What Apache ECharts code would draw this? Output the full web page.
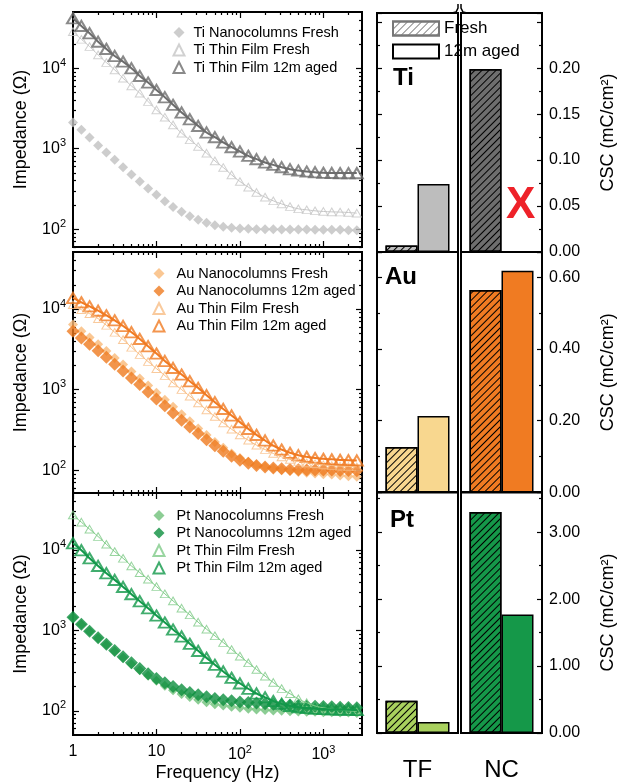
<!DOCTYPE html>
<html>
<head>
    <meta charset="UTF-8">
    <title>Impedance and CSC</title>
    <style type="text/css">
        *{margin:0;padding:0}
        #main{width:618px;height:783px;background:#fff}
    </style>
    <script src="https://cdn.jsdelivr.net/npm/echarts@6/dist/echarts.min.js"></script>
</head>
<body>
<div id="main"></div>
<script type="text/javascript">
    // frequencies (Hz), 10 points per decade
    var freq = [1, 1.26, 1.58, 2, 2.51, 3.16, 3.98, 5.01, 6.31, 7.94,
        10, 12.6, 15.8, 20, 25.1, 31.6, 39.8, 50.1, 63.1, 79.4,
        100, 126, 158, 200, 251, 316, 398, 501, 631, 794,
        1000, 1259, 1585, 1995, 2512];

    // impedance (ohm)
    var tiNcFresh = [2110, 1715, 1380, 1095, 896, 727, 589, 477, 391, 320, 267, 223, 189, 164, 145, 131, 120, 112, 107, 104, 102, 101, 100, 100, 100, 99, 99, 99, 99, 98, 98, 98, 98, 97, 97];
    var tiTfFresh = [28500, 22900, 18600, 14650, 11760, 9540, 7510, 6035, 4900, 3855, 3035, 2460, 1976, 1560, 1290, 1065, 880, 706, 584, 473, 391, 333, 286, 250, 225, 206, 191, 179, 174, 169, 166, 164, 163, 161, 158];
    var tiTfAged = [41700, 33600, 27200, 21400, 17400, 14200, 12100, 10000, 8030, 6640, 5380, 4365, 3510, 2815, 2325, 1920, 1590, 1390, 1195, 1045, 923, 815, 741, 674, 630, 589, 556, 535, 520, 510, 501, 500, 497, 497, 497];

    var auNcFresh = [6400, 5290, 4420, 3650, 3015, 2470, 2040, 1670, 1368, 1120, 910, 745, 610, 494, 404, 329, 272, 224, 189, 161, 141, 127, 116, 110, 105, 101, 98, 95, 93, 91, 89, 88, 86, 84, 83];
    var auNcAged = [5290, 4370, 3645, 3040, 2515, 2060, 1700, 1395, 1154, 935, 766, 628, 513, 417, 344, 285, 238, 200, 172, 149, 133, 122, 114, 109, 106, 104, 102, 101, 100, 100, 100, 100, 99, 99, 98];
    var auTfFresh = [11300, 9810, 8750, 7590, 6280, 5140, 4170, 3350, 2720, 2225, 1820, 1492, 1210, 1000, 827, 684, 560, 463, 386, 322, 274, 235, 204, 180, 161, 146, 136, 128, 123, 120, 116, 114, 112, 111, 110];
    var auTfAged = [13700, 12100, 10800, 9530, 8340, 7240, 6150, 5140, 4250, 3445, 2795, 2265, 1857, 1535, 1268, 1049, 851, 697, 575, 476, 394, 325, 274, 233, 202, 180, 164, 153, 146, 141, 138, 136, 134, 133, 132];

    var ptNcFresh = [1440, 1180, 965, 795, 660, 548, 455, 380, 320, 272, 236, 205, 180, 162, 148, 137, 128, 121, 116, 112, 109, 106, 104, 102, 101, 100, 99, 98, 97, 97, 96, 96, 95, 95, 94];
    var ptNcAged = [1460, 1195, 978, 808, 674, 562, 469, 395, 336, 288, 252, 223, 201, 182, 169, 158, 149, 142, 137, 133, 129, 127, 125, 122, 121, 119, 118, 117, 115, 114, 113, 112, 111, 110, 109];
    var ptTfFresh = [27200, 22100, 18100, 14650, 11760, 9530, 7870, 6320, 5220, 4325, 3505, 2845, 2325, 1885, 1560, 1263, 1033, 855, 706, 578, 478, 395, 326, 270, 225, 189, 163, 141, 126, 115, 109, 105, 102, 100, 98];
    var ptTfAged = [12100, 9910, 7870, 6320, 5130, 4240, 3470, 2815, 2300, 1885, 1528, 1250, 1023, 838, 680, 556, 455, 373, 308, 257, 219, 188, 164, 147, 132, 122, 115, 111, 108, 106, 105, 104, 103, 103, 102];

    // CSC (mC/cm2), [TF, NC]
    var cscGroups = ['TF', 'NC'];
    var tiFresh = [0.007, 0.199];
    var tiAged = [0.074, null];
    var auFresh = [0.127, 0.564];
    var auAged = [0.213, 0.618];
    var ptFresh = [0.48, 3.30];
    var ptAged = [0.165, 1.77];

    // tick values
    var freqMajor = [1, 10, 100, 1000];
    var freqMinor = [2, 3, 4, 5, 6, 7, 8, 9, 20, 30, 40, 50, 60, 70, 80, 90, 200, 300, 400, 500, 600, 700, 800, 900, 2000];
    var impMajor = [100, 1000, 10000];
    var impMinor = [60, 70, 80, 90, 200, 300, 400, 500, 600, 700, 800, 900, 2000, 3000, 4000, 5000, 6000, 7000, 8000, 9000, 20000, 30000, 40000];

    var FONT = 'Liberation Sans, Arial, sans-serif';
    var hatch = {symbol: 'rect', symbolSize: 1, dashArrayX: [1, 0], dashArrayY: [1, 3.5], rotation: -Math.PI / 4, color: '#000'};

    function pow10Label(v) {
        var e = Math.round(Math.log(v) / Math.LN10);
        if (e === 0) return '1';
        if (e === 1) return '10';
        return '{b|10}{s|' + e + '}';
    }
    var supRich = {
        b: {fontSize: 16, lineHeight: 22, fontFamily: FONT, color: '#000'},
        s: {fontSize: 11, lineHeight: 11, verticalAlign: 'top', fontFamily: FONT, color: '#000'}
    };

    var grid = [], xAxis = [], yAxis = [], series = [], legend = [];

    function logAxis(gi, pos, min, max, ticks, len, label) {
        return {
            type: 'log', logBase: 10, gridIndex: gi, position: pos, min: min, max: max,
            axisLine: {show: false}, splitLine: {show: false},
            axisTick: {show: true, inside: true, length: len, customValues: ticks, lineStyle: {color: '#000', width: 1.2}},
            axisLabel: label ? label : {show: false}
        };
    }

    var leftRows = [
        {top: 12, height: 235, min: 60, max: 50000, legend: {left: 167.5, top: 20, pad: 4}, items: [
            {name: 'Ti Nanocolumns Fresh', data: tiNcFresh, symbol: 'diamond', size: 10, color: '#c0c0c0'},
            {name: 'Ti Thin Film Fresh', data: tiTfFresh, symbol: 'triangle', size: 9, color: '#c6c6c6', hollow: 1, lw: 1},
            {name: 'Ti Thin Film 12m aged', data: tiTfAged, symbol: 'triangle', size: 12, color: '#6d6d6d', hollow: 2, lw: 2}
        ]},
        {top: 252, height: 241, min: 52, max: 51000, legend: {left: 147.5, top: 261, pad: 7}, items: [
            {name: 'Au Nanocolumns Fresh', data: auNcFresh, symbol: 'diamond', size: 10, color: '#f9b978'},
            {name: 'Au Nanocolumns 12m aged', data: auNcAged, symbol: 'diamond', size: 13, color: '#ef7a1f'},
            {name: 'Au Thin Film Fresh', data: auTfFresh, symbol: 'triangle', size: 9, color: '#f8bd84', hollow: 1, lw: 1},
            {name: 'Au Thin Film 12m aged', data: auTfAged, symbol: 'triangle', size: 12, color: '#f07a22', hollow: 2, lw: 2}
        ]},
        {top: 493, height: 242, min: 50, max: 51000, legend: {left: 147.5, top: 503, pad: 7}, items: [
            {name: 'Pt Nanocolumns Fresh', data: ptNcFresh, symbol: 'diamond', size: 10, color: '#6fc179'},
            {name: 'Pt Nanocolumns 12m aged', data: ptNcAged, symbol: 'diamond', size: 13, color: '#0c8f3f'},
            {name: 'Pt Thin Film Fresh', data: ptTfFresh, symbol: 'triangle', size: 9, color: '#80cb88', hollow: 1, lw: 1},
            {name: 'Pt Thin Film 12m aged', data: ptTfAged, symbol: 'triangle', size: 12, color: '#12984a', hollow: 2, lw: 2}
        ]}
    ];

    leftRows.forEach(function (row, r) {
        var gi = grid.length;
        grid.push({left: 73, width: 289, top: row.top, height: row.height, show: true,
            borderColor: '#000', borderWidth: 2, backgroundColor: 'transparent'});
        var xi = xAxis.length, yi = yAxis.length;
        var last = r === leftRows.length - 1;
        var xMain = logAxis(gi, 'bottom', 1, 2900, freqMajor, 6, last ? {
            show: true, customValues: freqMajor, formatter: pow10Label, rich: supRich,
            fontSize: 16, fontFamily: FONT, color: '#000', margin: 9
        } : null);
        if (last) {
            xMain.name = 'Frequency (Hz)';
            xMain.nameLocation = 'middle';
            xMain.nameGap = 28;
            xMain.nameTextStyle = {fontSize: 18, fontFamily: FONT, color: '#000'};
        }
        xAxis.push(xMain);
        xAxis.push(logAxis(gi, 'bottom', 1, 2900, freqMinor, 3));
        xAxis.push(logAxis(gi, 'top', 1, 2900, freqMajor, 6));
        xAxis.push(logAxis(gi, 'top', 1, 2900, freqMinor, 3));
        var yMain = logAxis(gi, 'left', row.min, row.max, impMajor, 6, {
            show: true, customValues: impMajor, formatter: pow10Label, rich: supRich,
            fontSize: 16, fontFamily: FONT, color: '#000', margin: 7
        });
        yMain.name = 'Impedance (\u03A9)';
        yMain.nameLocation = 'middle';
        yMain.nameGap = 43;
        yMain.nameTextStyle = {fontSize: 18, fontFamily: FONT, color: '#000'};
        yAxis.push(yMain);
        yAxis.push(logAxis(gi, 'left', row.min, row.max, impMinor, 3));
        yAxis.push(logAxis(gi, 'right', row.min, row.max, impMajor, 6));
        yAxis.push(logAxis(gi, 'right', row.min, row.max, impMinor, 3));

        row.items.forEach(function (it) {
            var pts = freq.map(function (f, i) { return [f, it.data[i]]; });
            if (it.hollow) {
                series.push({
                    type: 'line', name: it.name + ' fit', xAxisIndex: xi, yAxisIndex: yi,
                    data: pts, showSymbol: false, smooth: true, silent: true,
                    lineStyle: {color: it.color, width: it.lw}
                });
            }
            series.push({
                type: 'scatter', name: it.name, xAxisIndex: xi, yAxisIndex: yi, data: pts,
                symbol: it.symbol, symbolSize: it.hollow ? [it.size, it.size * 0.85] : it.size,
                itemStyle: it.hollow
                    ? {color: 'rgba(255,255,255,0)', borderColor: it.color, borderWidth: it.hollow === 2 ? 2 : 1}
                    : {color: it.color}
            });
        });
        legend.push({
            orient: 'vertical', left: row.legend.left, top: row.legend.top,
            itemWidth: 11, itemHeight: 11, itemGap: 2.5,
            data: row.items.map(function (it) { return it.name; }),
            textStyle: {fontSize: 14.5, fontFamily: FONT, color: '#000', padding: [0, 0, 0, row.legend.pad]}
        });
    });

    var barRows = [
        {label: 'Ti', fresh: tiFresh, aged: tiAged, colors: ['#bdbdbd', '#6e6e6e'], top: 13, height: 239, max: 0.26, interval: 0.05, labelMax: 0.21},
        {label: 'Au', fresh: auFresh, aged: auAged, colors: ['#f8d78f', '#f07b22'], top: 252, height: 240.5, max: 0.67, interval: 0.2, labelMax: 0.61},
        {label: 'Pt', fresh: ptFresh, aged: ptAged, colors: ['#a9d15e', '#159849'], top: 492, height: 241, max: 3.6, interval: 1, labelMax: 3.1}
    ];

    barRows.forEach(function (row, r) {
        cscGroups.forEach(function (g, c) {
            var gi = grid.length;
            grid.push({left: c ? 461 : 377, width: 81, top: row.top, height: row.height, show: true,
                borderColor: '#000', borderWidth: 2, backgroundColor: 'transparent'});
            var xi = xAxis.length, yi = yAxis.length;
            xAxis.push({
                type: 'category', gridIndex: gi, data: [g],
                axisLine: {show: false}, axisTick: {show: false},
                axisLabel: {show: r === 2, fontSize: 24, fontFamily: FONT, color: '#000', margin: 25}
            });
            var ya = {
                type: 'value', gridIndex: gi, position: c ? 'right' : 'left',
                min: 0, max: row.max, interval: row.interval,
                axisLine: {show: false}, splitLine: {show: false},
                axisTick: {show: true, inside: true, length: 5, lineStyle: {color: '#000', width: 1.2}},
                minorTick: {show: true, splitNumber: 2, length: 3, lineStyle: {color: '#000', width: 1.2}},
                axisLabel: {
                    show: c === 1, fontSize: 16, fontFamily: FONT, color: '#000', margin: 7,
                    showMaxLabel: false,
                    formatter: (function (lm) {
                        return function (v) { return v > lm ? '' : v.toFixed(2); };
                    })(row.labelMax)
                }
            };
            if (c === 1) {
                ya.name = 'CSC (mC/cm\u00B2)';
                ya.nameLocation = 'middle';
                ya.nameRotate = 90;
                ya.nameGap = 57;
                ya.nameTextStyle = {fontSize: 18, fontFamily: FONT, color: '#000'};
            }
            yAxis.push(ya);
            var stackF = row.label + g + 'f', stackA = row.label + g + 'a';
            series.push({
                type: 'bar', name: row.label + ' ' + g + ' Fresh', xAxisIndex: xi, yAxisIndex: yi,
                stack: stackF, data: [row.fresh[c]], barWidth: 32, barGap: '0%',
                itemStyle: {color: row.colors[c], borderColor: '#000', borderWidth: 1.5, decal: hatch}
            });
            series.push({
                type: 'bar', name: row.label + ' ' + g + ' 12m aged', xAxisIndex: xi, yAxisIndex: yi,
                stack: stackA, data: [row.aged[c]], barWidth: 32, barGap: '0%',
                itemStyle: {color: row.colors[c], borderColor: '#000', borderWidth: 1.5}
            });
            if (r === 0 && c === 0) {
                // legend-only entries
                series.push({
                    type: 'bar', name: 'Fresh', xAxisIndex: xi, yAxisIndex: yi, stack: stackF, data: [],
                    itemStyle: {color: '#fff', borderColor: '#777', borderWidth: 1,
                        decal: {symbol: 'rect', symbolSize: 1, dashArrayX: [1, 0], dashArrayY: [1, 3.5], rotation: -Math.PI / 4, color: '#888'}}
                });
                series.push({
                    type: 'bar', name: '12m aged', xAxisIndex: xi, yAxisIndex: yi, stack: stackA, data: [],
                    itemStyle: {color: '#fff', borderColor: '#000', borderWidth: 1.2}
                });
            }
        });
    });

    legend.push({
        orient: 'vertical', left: 387, top: 15, itemWidth: 46, itemHeight: 14, itemGap: 6, icon: 'rect',
        data: ['Fresh', '12m aged'],
        textStyle: {fontSize: 17, fontFamily: FONT, color: '#000'}
    });

    var labelText = function (text, x, y) {
        return {type: 'text', left: x, top: y, style: {text: text, fontSize: 24, fontWeight: 'bold', fontFamily: FONT, fill: '#000'}};
    };

    var myChart = echarts.init(document.getElementById('main'), null, {renderer: 'canvas'});
    var option = {
        animation: false,
        textStyle: {fontFamily: FONT},
        grid: grid,
        xAxis: xAxis,
        yAxis: yAxis,
        legend: legend,
        series: series,
        graphic: [
            labelText('Ti', 393, 66),
            labelText('Au', 385, 265),
            labelText('Pt', 390, 508),
            {type: 'text', left: 506, top: 184, style: {text: 'X', fontSize: 44, fontWeight: 'bold', fontFamily: FONT, fill: '#ee2229'}},
            // axis break marks on the double line
            {type: 'polyline', shape: {points: [[452, 13], [456, 12], [458, 8], [458, 4]]}, style: {stroke: '#000', lineWidth: 1.5, fill: null}},
            {type: 'polyline', shape: {points: [[467, 13], [463, 12], [461, 8], [461, 4]]}, style: {stroke: '#000', lineWidth: 1.5, fill: null}}
        ]
    };
    myChart.setOption(option);
</script>
</body>
</html>
